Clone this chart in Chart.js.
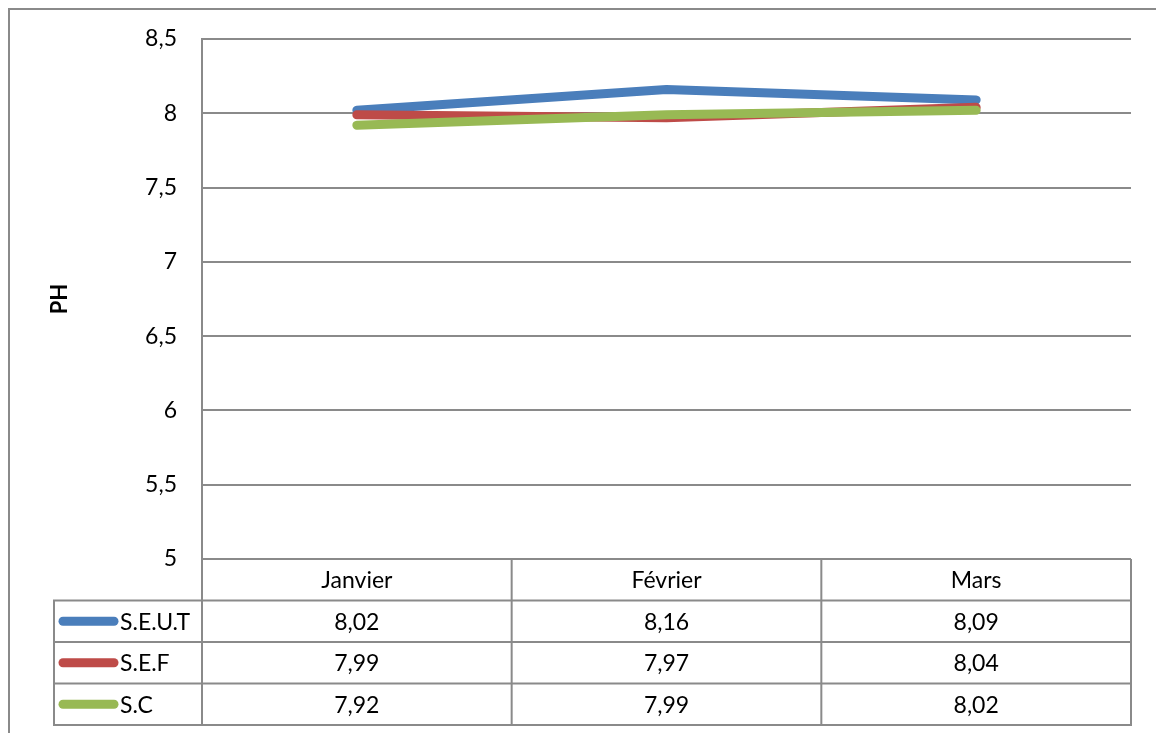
<!DOCTYPE html>
<html><head><meta charset="utf-8">
<script src="https://cdn.jsdelivr.net/npm/chart.js@4/dist/chart.umd.min.js"></script>
<style>html,body{margin:0;padding:0;background:#fff;overflow:hidden}#wrap{width:1156px;height:733px}</style>
</head><body><div id="wrap"><canvas id="c" width="1156" height="733"></canvas></div>
<script>
const categories = ['Janvier', 'Février', 'Mars'];
const seriesNames = ['S.E.U.T', 'S.E.F', 'S.C'];
const seutValues = [8.02, 8.16, 8.09];
const sefValues = [7.99, 7.97, 8.04];
const scValues = [7.92, 7.99, 8.02];
const yMin = 5, yMax = 8.5, yStep = 0.5;
const axisTitle = 'PH';

const seriesValues = [seutValues, sefValues, scValues];
const seriesColors = ['#4a7ebb', '#be4b48', '#98b954'];
const GRID = '#8a8a8a';
const FONT = 'Lato, "Open Sans", sans-serif';
const FSIZE = 23;
const fmt = v => String(v).replace('.', ',');

const tablePlugin = {
  id: 'dataTable',
  beforeDraw(chart) {
    const ctx = chart.ctx;
    ctx.save();
    ctx.fillStyle = '#fff';
    ctx.fillRect(0, 0, chart.width, chart.height);
    ctx.restore();
  },
  afterDraw(chart) {
    const ctx = chart.ctx, ca = chart.chartArea, xs = chart.scales.x;
    const rowH = 41.5, top = ca.bottom, legendLeft = 54;
    const n = categories.length;
    const centers = categories.map((c, i) => xs.getPixelForValue(i));
    const bounds = [ca.left];
    for (let i = 0; i < n - 1; i++) bounds.push((centers[i] + centers[i + 1]) / 2);
    bounds.push(ca.right);
    ctx.save();
    ctx.strokeStyle = GRID;
    ctx.lineWidth = 2;
    ctx.strokeRect(9, 9, 1400, 1000);
    ctx.beginPath();
    ctx.moveTo(ca.left, top); ctx.lineTo(ca.right, top);
    for (let r = 1; r <= seriesNames.length + 1; r++) {
      const y = top + r * rowH;
      ctx.moveTo(legendLeft - 1, y); ctx.lineTo(ca.right + 1, y);
    }
    const bottom = top + (seriesNames.length + 1) * rowH;
    bounds.forEach((bx, i) => { ctx.moveTo(bx, i === 0 ? ca.top : top); ctx.lineTo(bx, bottom + 1); });
    ctx.moveTo(legendLeft, top + rowH); ctx.lineTo(legendLeft, bottom + 1);
    ctx.stroke();
    ctx.fillStyle = '#000';
    ctx.font = FSIZE + 'px ' + FONT;
    ctx.textAlign = 'center';
    ctx.textBaseline = 'middle';
    categories.forEach((c, i) => ctx.fillText(c, centers[i], top + rowH / 2 + 1));
    seriesNames.forEach((name, r) => {
      const yc = top + (r + 1) * rowH + rowH / 2 + 1;
      seriesValues[r].forEach((v, i) => ctx.fillText(fmt(v), centers[i], yc));
      ctx.save();
      ctx.strokeStyle = seriesColors[r];
      ctx.lineWidth = 9;
      ctx.lineCap = 'round';
      ctx.beginPath();
      ctx.moveTo(63, yc - 1); ctx.lineTo(114, yc - 1);
      ctx.stroke();
      ctx.restore();
      ctx.textAlign = 'left';
      ctx.fillText(name, 120, yc);
      ctx.textAlign = 'center';
    });
    ctx.restore();
  }
};

new Chart(document.getElementById('c'), {
  type: 'line',
  data: {
    labels: categories,
    datasets: seriesNames.map((name, i) => ({
      label: name,
      data: seriesValues[i],
      borderColor: seriesColors[i],
      backgroundColor: seriesColors[i],
      borderWidth: 9,
      borderCapStyle: 'round',
      borderJoinStyle: 'round',
      pointRadius: 0,
      pointHoverRadius: 0,
      tension: 0,
      fill: false,
      order: seriesNames.length - i
    }))
  },
  options: {
    responsive: false,
    animation: false,
    devicePixelRatio: 1,
    layout: { padding: { left: 43, top: 39, right: 25, bottom: 174 } },
    plugins: { legend: { display: false }, tooltip: { enabled: false } },
    scales: {
      x: { display: false, offset: true },
      y: {
        min: yMin, max: yMax,
        afterFit(scale) { scale.width = 159; },
        ticks: {
          stepSize: yStep,
          padding: 25,
          color: '#000',
          font: { family: FONT, size: FSIZE },
          callback: v => fmt(v)
        },
        grid: { color: GRID, lineWidth: 2, drawTicks: false },
        border: { display: true, color: GRID, width: 2 },
        title: {
          display: true, text: axisTitle, color: '#000',
          font: { family: FONT, size: 22, weight: 'bold' }
        }
      }
    }
  },
  plugins: [tablePlugin]
});
</script>
</body></html>
